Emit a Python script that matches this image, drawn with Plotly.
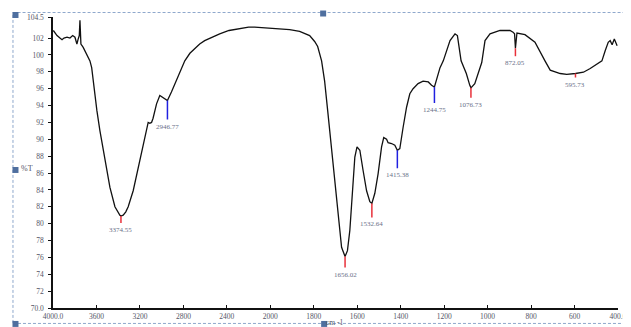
import numpy as np
import plotly.graph_objects as go

# ---------------- data ----------------
wavenumber = [3997, 3963, 3936, 3917, 3899, 3871, 3844, 3819, 3798, 3780, 3768, 3758, 3752, 3743,
              3722, 3690, 3660, 3644, 3630, 3614, 3596, 3568, 3522, 3476, 3430, 3400, 3384, 3374.55, 3354,
              3330, 3308, 3262, 3216, 3170, 3139, 3124, 3109, 3093, 3079, 3047, 3017, 2987, 2946.77, 2910,
              2864, 2818, 2787, 2740, 2695, 2650, 2604, 2540, 2466, 2380, 2282, 2200, 2144, 2052,
              2000, 1957, 1911, 1865, 1819, 1796, 1782, 1764, 1750, 1736, 1713, 1690, 1672, 1656.02,
              1645, 1634, 1619, 1611, 1601, 1588, 1573, 1557, 1542, 1532.64, 1519, 1504, 1488, 1478,
              1465, 1458, 1442, 1427, 1415.38, 1404, 1389, 1373, 1358, 1343, 1320, 1297, 1273, 1258,
              1244.75, 1235, 1219, 1204, 1188, 1173, 1150, 1139, 1122, 1098, 1082, 1076.73, 1059,
              1043, 1027, 1012, 989, 943, 897, 883, 876, 872.05, 868, 865, 828, 782, 736, 712, 666,
              636, 595.73, 559, 528, 497, 474, 459, 445, 436, 427, 417, 404]
transmittance = [102.9, 102.3, 102.0, 101.8, 102.0, 102.1, 102.0, 102.3, 102.1, 101.3, 101.9, 102.3, 104.1, 101.3,
                 100.9, 100.1, 99.3, 98.5, 96.9, 95.4, 93.4, 91.0, 87.5, 84.3, 82.0, 81.3, 81.0, 80.9, 81.0,
                 81.4, 82.0, 83.9, 86.7, 89.5, 91.4, 92.0, 91.9, 92.0, 92.5, 94.2, 95.2, 94.9, 94.6, 95.6,
                 97.0, 98.5, 99.3, 100.2, 100.8, 101.3, 101.7, 102.1, 102.5, 102.9, 103.1, 103.3, 103.3, 103.2,
                 103.2, 103.1, 103.0, 102.8, 102.3, 101.6, 101.0, 99.3, 96.9, 93.4, 87.5, 81.6, 77.2, 76.1,
                 76.8, 79.2, 85.1, 87.9, 89.1, 88.7, 86.3, 83.9, 82.6, 82.4, 83.6, 85.9, 89.1, 90.2,
                 90.0, 89.6, 89.5, 89.3, 88.7, 88.9, 91.4, 93.8, 95.4, 96.0, 96.6, 96.9, 96.8, 96.4,
                 96.2, 97.0, 98.5, 99.3, 100.6, 101.7, 102.5, 102.3, 99.3, 97.8, 96.4, 96.1, 96.6,
                 97.8, 99.1, 101.7, 102.5, 102.9, 102.9, 102.7, 102.5, 100.8, 102.4, 102.6, 102.4, 101.5, 99.3, 98.2, 97.8,
                 97.7, 97.8, 97.95, 98.4, 98.9, 99.3, 100.5, 101.5, 101.7, 101.2, 101.9, 101.1]

peak_wavenumber = [3374.55, 2946.77, 1656.02, 1532.64, 1415.38, 1244.75, 1076.73, 872.05, 595.73]
peak_value = [80.9, 94.6, 76.1, 82.4, 88.7, 96.2, 96.1, 100.8, 97.8]
peak_label = ["3374.55", "2946.77", "1656.02", "1532.64", "1415.38", "1244.75", "1076.73", "872.05", "595.73"]
peak_kind = ["red", "blue", "red", "red", "blue", "blue", "red", "red", "red"]

x_tick_values = [4000, 3600, 3200, 2800, 2400, 2000, 1800, 1600, 1400, 1200, 1000, 800, 600, 400]
x_tick_text = ["4000.0", "3600", "3200", "2800", "2400", "2000", "1800", "1600", "1400",
               "1200", "1000", "800", "600", "400.0"]
y_tick_values = [70, 72, 74, 76, 78, 80, 82, 84, 86, 88, 90, 92, 94, 96, 98, 100, 102, 104.5]
y_tick_text = ["70.0", "72", "74", "76", "78", "80", "82", "84", "86", "88", "90", "92", "94",
               "96", "98", "100", "102", "104.5"]

# ---------------- axis with scale change at 2000 cm-1 ----------------
def axis_pos(w):
    w = np.asarray(w, dtype=float)
    return np.where(w >= 2000, 4000 - w, 2000 + 2 * (2000 - w))

# pixel geometry (page coordinates; the page body has an 8px margin)
OFF = 8
PAGE_W, PAGE_H = 631, 327
W, H = PAGE_W - OFF, PAGE_H - OFF
PLOT_L, PLOT_R, PLOT_T, PLOT_B = 53, 617.7, 16.5, 308.5
L, T = PLOT_L - OFF, PLOT_T - OFF
R, B = PAGE_W - PLOT_R, PAGE_H - PLOT_B
PW, PH = PLOT_R - PLOT_L, PLOT_B - PLOT_T

def px(xp):
    return (xp - PLOT_L) / PW

def py(yp):
    return (PLOT_B - yp) / PH

fig = go.Figure()
fig.add_trace(go.Scatter(x=axis_pos(wavenumber), y=transmittance, mode="lines",
                         line=dict(color="#111111", width=1.3), hoverinfo="skip",
                         showlegend=False))

line_len = {"3374.55": 7, "2946.77": 19, "1656.02": 11, "1532.64": 14, "1415.38": 18,
            "1244.75": 16, "1076.73": 10, "872.05": 8, "595.73": 4}
colors = {"red": "#e8303a", "blue": "#2020e0"}
shapes = []
annotations = []
for w, v, lab, kind in zip(peak_wavenumber, peak_value, peak_label, peak_kind):
    xu = float(axis_pos(w))
    ln = line_len[lab]
    shapes.append(dict(type="line", xref="x", yref="y", ysizemode="pixel", yanchor=v,
                       x0=xu, x1=xu, y0=0, y1=-ln,
                       line=dict(color=colors[kind], width=1.5)))
    annotations.append(dict(x=xu, y=v, xref="x", yref="y", text=lab, showarrow=False,
                            yanchor="top", xanchor="center", yshift=-ln - 1,
                            font=dict(family="Liberation Serif", size=7, color="#6a7088")))

# dashed selection border with handles
shapes.append(dict(type="rect", xref="paper", yref="paper",
                   x0=px(13), x1=px(626), y0=py(324), y1=py(12),
                   line=dict(color="#8fa8cc", width=1, dash="3px,2px")))
for hx, hy in [(15.5, 14.5), (323, 13), (626, 13), (15.5, 170), (626, 170),
               (15.5, 324.5), (324, 324.5), (628.5, 324.5)]:
    shapes.append(dict(type="rect", xref="paper", yref="paper",
                       x0=px(hx - 3), x1=px(hx + 3), y0=py(hy + 3), y1=py(hy - 3),
                       fillcolor="#4f6f9f", line=dict(width=0)))

annotations.append(dict(x=px(27), y=py(169), xref="paper", yref="paper", text="%T",
                        showarrow=False, xanchor="center", yanchor="middle",
                        font=dict(family="Liberation Serif", size=8, color="#555566")))
annotations.append(dict(x=px(335), y=py(323), xref="paper", yref="paper", text="cm -1",
                        showarrow=False, xanchor="center", yanchor="middle",
                        font=dict(family="Liberation Serif", size=7.5, color="#555566")))

fig.update_layout(
    width=W, height=H,
    margin=dict(l=L, r=R, t=T, b=B, pad=0, autoexpand=False),
    paper_bgcolor="white", plot_bgcolor="white",
    shapes=shapes, annotations=annotations,
    xaxis=dict(range=[0, 5200], tickvals=list(axis_pos(x_tick_values)), ticktext=x_tick_text,
               showgrid=False, zeroline=False, showline=True, linecolor="#111111", linewidth=1.5,
               ticks="inside", ticklen=3, tickcolor="#111111", automargin=False,
               tickfont=dict(family="Liberation Serif", size=7.5, color="#555566")),
    yaxis=dict(range=[70, 104.5], tickvals=y_tick_values, ticktext=y_tick_text,
               showgrid=False, zeroline=False, showline=True, linecolor="#111111", linewidth=1.5,
               ticks="outside", ticklen=3, tickcolor="#111111", ticklabelstandoff=3, automargin=False,
               tickfont=dict(family="Liberation Serif", size=7.5, color="#555566")),
)

fig.write_html("out.html")
